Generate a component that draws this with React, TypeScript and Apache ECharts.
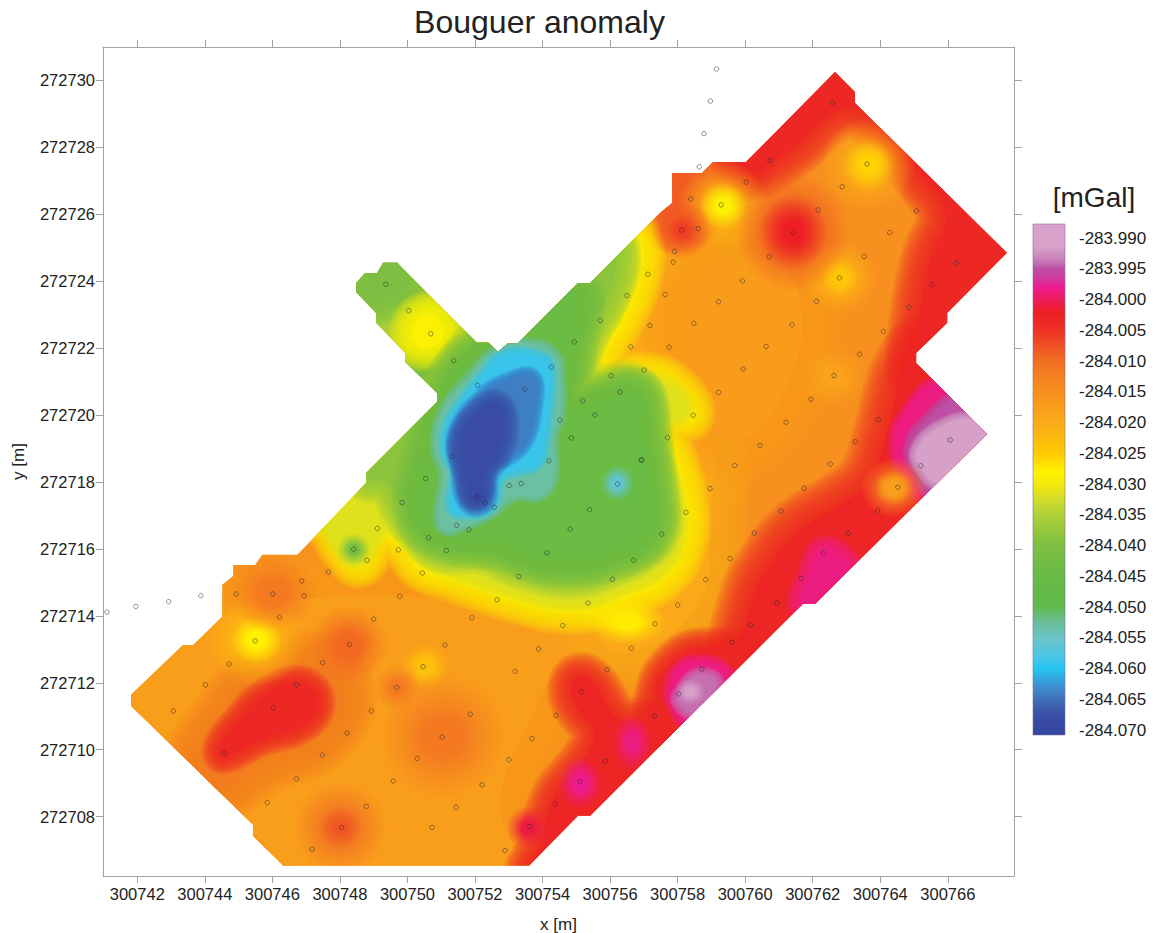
import React, { useEffect, useRef } from "react";
import * as echarts from "echarts";

// Local origin of the survey coordinates: offsets below
const X0 = 300740;
const Y0 = 272700;
const X_MIN = 300740.985;
const X_MAX = 300767.96;
const Y_MIN = 272706.23;
const Y_MAX = 272730.985;
const xTicks = [300742, 300744, 300746, 300748, 300750, 300752, 300754, 300756, 300758, 300760, 300762, 300764, 300766];
const yTicks = [272708, 272710, 272712, 272714, 272716, 272718, 272720, 272722, 272724, 272726, 272728, 272730];
const barTicks = [-283.99, -283.995, -284.0, -284.005, -284.01, -284.015, -284.02, -284.025, -284.03, -284.035, -284.04, -284.045, -284.05, -284.055, -284.06, -284.065, -284.07];
const BAR_MIN = -284.0708;
const BAR_MAX = -283.9877;

// Colour scale of the bar: [mGal, colour]
const colorScale: [number, string][] = [
  [-283.9877, "#d9a3cb"], [-283.9915, "#d6a0c9"], [-283.9935, "#c97fb8"], [-283.995, "#bd4fa4"],
  [-283.9965, "#cf3a9f"], [-283.998, "#ec1c8d"], [-284.0, "#ec1c5c"], [-284.002, "#ed1f24"],
  [-284.005, "#ee3124"], [-284.01, "#f26f22"], [-284.015, "#f7901e"], [-284.02, "#fbab18"],
  [-284.025, "#ffcb05"], [-284.028, "#fff200"], [-284.03, "#f3e80c"], [-284.033, "#cbd92e"],
  [-284.035, "#aed036"], [-284.04, "#7dbf42"], [-284.045, "#67bb46"], [-284.05, "#60b94a"],
  [-284.052, "#69bd8e"], [-284.055, "#6cc5c8"], [-284.058, "#4cc6e6"], [-284.06, "#27c4f0"],
  [-284.063, "#3d8fd0"], [-284.065, "#3f6fb8"], [-284.068, "#3a4ca5"], [-284.0708, "#3447a0"],
];

// Survey outline
const outline = [
  [22.66, 30.24], [23.25, 29.64], [23.25, 29.31], [27.75, 24.84], [25.98, 23.04], [25.98, 22.75], [25.06, 21.85], [25.06, 21.55],
  [27.16, 19.43], [22.07, 14.36], [21.71, 14.36], [15.41, 8.03], [15.05, 8.03], [13.6, 6.54], [6.32, 6.54], [5.43, 7.43], [5.43, 7.76],
  [1.82, 11.31], [1.82, 11.64], [3.36, 13.13], [3.66, 13.13], [4.52, 13.97], [4.52, 14.93], [4.84, 15.19], [4.84, 15.52], [5.49, 15.52],
  [5.7, 15.82], [6.74, 15.82], [8.78, 17.97], [8.78, 18.27], [10.88, 20.39], [10.88, 20.66], [9.93, 21.58], [9.93, 21.85], [9.07, 22.75],
  [9.07, 23.04], [8.48, 23.67], [8.48, 23.94], [8.75, 24.24], [9.1, 24.24], [9.28, 24.54], [9.7, 24.54], [9.78, 24.45], [12.06, 22.15],
  [12.39, 22.15], [12.69, 21.88], [12.95, 22.12], [13.25, 22.12], [15.05, 23.94], [15.41, 23.94], [16.39, 24.93], [17.48, 26.03],
  [17.84, 26.33], [17.84, 27.22], [18.72, 27.22], [19.05, 27.55], [20.03, 27.55],
];
const BASE_LEVEL = -284.015;

// Contours: amber plains
const amberWest = [[1.5, 11.49], [3.57, 13.58], [6.83, 14.48], [11.27, 14.48], [14.52, 13.73], [15.71, 13.28], [14.52, 12.39], [13.64, 10.9], [12.75, 8.51], [13.04, 6.42], [6.83, 6.42], [5.35, 7.61]];
const amberEast = [[16.3, 25.22], [17.48, 25.37], [19.26, 24.63], [19.85, 22.54], [19.26, 19.85], [18.97, 16.87], [18.67, 14.48], [16.89, 12.99], [15.71, 13.28], [15.71, 20.45]];
const amberMid = [[18.37, 23.73], [20.44, 24.63], [21.63, 23.43], [21.04, 20.45], [19.56, 19.25], [18.67, 20.45]];

// Highs
const redNorth = [[20.03, 27.91], [22.66, 30.6], [23.7, 29.7], [28.14, 24.84], [26.07, 22.54], [25.33, 22.09], [25.03, 21.34], [25.18, 23.13], [25.48, 24.63], [25.92, 25.97], [25.33, 27.01], [24.29, 28.21], [23.4, 29.1], [22.52, 28.96], [21.33, 27.91], [20.03, 27.25]];
const orangeCorner = [[17.84, 27.31], [20.15, 27.91], [20, 27.16], [18.81, 26.57], [18.37, 25.67], [17.63, 25.67]];
const redEast = [[25.33, 21.94], [27.55, 19.55], [22.07, 14.03], [20, 12.84], [20.2, 14.48], [20.74, 15.52], [21.63, 16.57], [22.81, 17.31], [23.7, 18.06], [24.14, 19.25], [24.44, 20.45], [24.73, 21.34]];
const pinkEast = [[22.28, 15.97], [22.96, 15.67], [23.1, 15.07], [22.07, 14.18], [21.63, 14.33], [21.92, 15.22]];
const bulbMagenta = [[25.77, 20.9], [27.4, 19.4], [25.33, 17.61], [24.73, 18.21], [24.44, 19.1], [24.73, 20]];
const bulbPurple = [[26.37, 20.45], [27.55, 19.25], [25.56, 17.76], [25.09, 18.36], [24.88, 18.96], [25.27, 19.7]];
const bulbLight = [[26.81, 19.85], [27.55, 19.25], [25.77, 18], [25.18, 18.45], [25.09, 18.96], [25.77, 19.64]];
const redSouth = [[14.85, 11.88], [15.1, 12.2], [15.55, 11.95], [16.2, 10.99], [16.98, 10.81], [17.87, 10.51], [18.67, 10.15], [13.64, 6.48], [14.0, 7.2], [14.1, 7.9], [14.4, 8.7], [14.8, 9.2], [15.4, 10], [15.5, 10.6], [15.0, 11.28]];
const southRedRing = [[17.28, 11.58], [17.87, 12.69], [18.87, 13.07], [20, 12.69], [18.37, 10.45], [17.49, 10.75]];
const southMagenta = [[17.78, 11.79], [18.07, 12.45], [18.75, 12.63], [19.41, 12.39], [19.5, 12.09], [18.28, 10.84], [17.87, 11.34]];
const southPurple = [[18.07, 11.7], [18.58, 12.24], [19.17, 12], [18.46, 11.13], [18.02, 11.4]];
const westHalo = [[6.83, 12.54], [8.01, 11.79], [7.42, 10.45], [5.73, 9.7], [4.3, 8.81], [3.72, 9.4], [4.46, 10.75], [5.64, 12.09]];
const westRed = [[6.74, 12.0], [7.33, 11.58], [7.03, 10.81], [5.64, 10.3], [4.55, 9.79], [4.46, 10.09], [5.05, 10.9], [5.73, 11.58]];

// Arm in the north-west
const armBody = [[8.3, 24.6], [9.9, 24.7], [12.6, 22.2], [10.7, 20.3], [8.3, 23.5]];
const armTip = [[8.5, 23.9], [9.1, 24.73], [9.7, 24.63], [10, 23.9], [9.3, 23.4], [8.7, 23.4]];
const armRoot = [[10.97, 21.55], [11.96, 22.14], [12.65, 21.95], [10.97, 20.45], [10.2, 21.3]];
const armYellow = [[10.45, 22.95], [10.9, 22.85], [11.05, 22.4], [10.8, 22.05], [10.35, 22.05], [10.15, 22.5]];

// Central low, from the rim inwards
const lowYellow = [[16.89, 25.37], [16.89, 23.94], [16.3, 22.63], [15.8, 21.64], [15.92, 21.13], [16.89, 21.25], [17.87, 20.96], [18.46, 19.94], [17.48, 19.64], [17.87, 18.96], [18.28, 17.46], [18.28, 16.27], [17.69, 15.16], [16.39, 14.48], [14.91, 14.09], [12.95, 14.48], [11.47, 14.99], [10.38, 15.37], [9.78, 16.06], [9.28, 16.27], [8.6, 15.46], [8.01, 15.97], [7.48, 16.72], [6.83, 16.87], [10.88, 20.6], [12.15, 22.24], [16.3, 25.52]];
const lowOlive = [[16.5, 25.03], [16.7, 24.43], [16.2, 23.14], [15.61, 22.04], [15.51, 21.35], [15.61, 20.75], [16.7, 21.1], [17.88, 20.75], [18.18, 20.05], [17.39, 19.76], [17.58, 18.96], [17.98, 17.57], [18.03, 16.37], [17.49, 15.38], [16.3, 14.78], [14.92, 14.38], [12.95, 14.78], [11.46, 15.28], [10.48, 15.68], [9.89, 16.37], [9.29, 16.57], [8.7, 15.78], [8.31, 15.68], [7.71, 16.47], [7.12, 17.17], [10.88, 20.6], [12.15, 22.24], [16.3, 25.6]];
const lowGreen = [[16.2, 24.73], [15.91, 23.54], [15.31, 22.44], [15.02, 21.55], [14.92, 20.45], [15.71, 20.75], [16.7, 20.85], [17.1, 20.0], [17.2, 18.9], [17.4, 17.57], [17.4, 16.5], [16.9, 15.95], [16, 15.5], [14.92, 15.2], [13.44, 15.45], [12.16, 15.95], [11.07, 15.97], [10.38, 16.47], [9.89, 17.17], [9.39, 17.96], [8.7, 18.16], [8.5, 18.76], [10.88, 20.6], [12.15, 22.24], [15.12, 24.33], [16.1, 25.2]];
const lowDeepGreen = [[15.51, 20.25], [16.7, 20.55], [16.9, 19.6], [17.1, 18], [17.1, 16.6], [16.3, 16], [14.43, 15.7], [12.75, 16.2], [11.27, 16.4], [10.48, 16.97], [10.67, 18.76], [11.46, 21.15], [12.75, 22.04], [13.93, 22.94], [14.92, 23.64], [14.72, 21.65], [14.72, 20.25]];
const lowTeal = [[12.65, 21.95], [13.64, 22.14], [14.33, 21.85], [14.52, 21.25], [14.52, 19.96], [14.33, 19.36], [14.33, 18.16], [13.93, 17.57], [13.24, 17.57], [12.85, 17.37], [12.55, 17.07], [11.66, 16.67], [11.07, 16.57], [10.92, 17.17], [11.07, 18.16], [10.82, 19.06], [11.07, 20.15], [11.86, 21.15]];
const lowCyan = [[12.85, 21.75], [13.83, 21.75], [14.18, 21.45], [14.13, 20.15], [14.03, 19.26], [13.83, 18.56], [13.24, 18.36], [12.75, 18.16], [12.45, 17.27], [11.66, 17.07], [11.32, 17.27], [11.42, 18.26], [11.17, 18.86], [11.22, 19.66], [11.76, 20.55], [12.16, 21.05]];
const lowBlue = [[12.95, 21.05], [13.73, 21.15], [13.78, 20.15], [13.49, 19.16], [12.95, 18.66], [12.55, 18.46], [12.35, 17.67], [12.16, 17.37], [11.76, 17.47], [11.61, 18.07], [11.37, 18.86], [11.46, 19.66], [12.16, 20.55]];
const lowDark = [[12.05, 19.95], [12.65, 20.3], [12.85, 19.6], [12.65, 18.85], [12.25, 18.2], [12.2, 17.55], [11.98, 17.42], [11.8, 17.7], [11.72, 18.46], [11.6, 19.15]];

// Painted in order: [level, contour, softness]
const bands: [number, number[][], number][] = [
  [-284.0175, amberWest, 50], [-284.0195, amberEast, 40], [-284.0172, amberMid, 44],
  [-284.0085, orangeCorner, 24],
  [-284.012, westHalo, 36], [-284.0035, westRed, 18],
  [-284.0035, redNorth, 30], [-284.003, redEast, 34], [-284.003, redSouth, 24], [-284.0035, southRedRing, 20],
  [-283.9985, pinkEast, 14], [-283.9985, bulbMagenta, 8], [-283.995, bulbPurple, 8], [-283.991, bulbLight, 8],
  [-283.9985, southMagenta, 8], [-283.994, southPurple, 8],
  [-284.0355, armBody, 10], [-284.04, armTip, 24], [-284.0415, armRoot, 18], [-284.0285, armYellow, 24],
  [-284.0275, lowYellow, 22], [-284.0315, lowOlive, 10], [-284.0385, lowGreen, 24], [-284.044, lowDeepGreen, 30],
  [-284.053, lowTeal, 6], [-284.059, lowCyan, 8], [-284.064, lowBlue, 8], [-284.0685, lowDark, 16],
];

// Isolated soft spots: [x, y, radius x, radius y, level]
const spots: number[][] = [
  [19.35, 26.24, 1.35, 1.35, -284.0215], [19.35, 26.24, 0.7, 0.7, -284.0285],
  [23.64, 27.46, 1.4, 1.4, -284.0205], [23.64, 27.46, 0.75, 0.75, -284.0255],
  [22.81, 24.09, 1.1, 1.1, -284.021], [22.81, 24.09, 0.55, 0.55, -284.0245],
  [5.52, 13.28, 1.5, 1.4, -284.0225], [5.52, 13.28, 0.75, 0.7, -284.028],
  [24.4, 17.82, 1.0, 0.9, -284.014], [24.4, 17.82, 0.55, 0.5, -284.018],
  [10.53, 12.48, 0.7, 0.7, -284.0235], [16.5, 13.82, 1.2, 0.7, -284.0275], [22.6, 21.13, 1.0, 0.9, -284.0185],
  [21.42, 25.46, 1.7, 1.8, -284.008], [21.42, 25.46, 1.0, 1.1, -284.002],
  [18.13, 25.52, 0.9, 0.9, -284.008], [18.13, 25.52, 0.45, 0.45, -284.006],
  [8.25, 13.13, 1.2, 1.2, -284.0095],
  [8.01, 7.67, 1.4, 1.4, -284.0105], [8.01, 7.67, 0.6, 0.6, -284.008],
  [11.06, 10.39, 1.9, 1.9, -284.0115],
  [6.02, 14.69, 1.3, 1.2, -284.0115],
  [9.69, 11.85, 0.7, 0.7, -284.012],
  [16.66, 10.21, 0.6, 0.85, -283.9985], [15.12, 9.01, 0.65, 0.8, -283.998], [13.58, 7.67, 0.65, 0.65, -284.001],
  [18.37, 11.73, 0.45, 0.4, -283.99],
  [16.22, 17.96, 0.5, 0.55, -284.056], [12.12, 17.5, 0.3, 0.2, -284.0705], [8.41, 15.98, 0.5, 0.5, -284.041],
];

// Sample stations (open circles)
const stations = [
  [1.1, 14.11], [1.96, 14.28], [2.93, 14.42], [3.88, 14.6], [19.15, 30.33], [18.97, 29.37], [18.78, 28.4], [18.64, 27.41],
  [20.03, 26.95], [18.39, 26.45], [19.29, 26.27], [18.12, 25.52], [18.61, 25.56], [17.91, 24.88], [17.87, 24.56], [17.63, 23.59],
  [20.71, 24.72], [19.92, 24.0], [19.21, 23.38], [18.48, 22.73], [17.75, 22.02], [20.62, 22.04], [21.39, 22.69], [22.11, 23.39],
  [22.79, 24.09], [23.52, 24.73], [24.28, 25.44], [25.07, 26.09], [25.53, 23.89], [24.84, 23.21], [24.09, 22.49], [22.16, 26.12],
  [22.87, 26.81], [23.61, 27.49], [20.74, 27.6], [21.43, 25.45], [26.26, 24.53], [22.59, 29.31],
  [23.39, 21.81], [17.01, 21.34], [19.94, 21.37], [22.63, 21.17], [19.21, 20.67], [21.95, 20.47], [18.46, 19.99], [21.21, 19.78],
  [23.94, 19.86], [17.7, 19.32], [20.44, 19.09], [23.26, 19.2], [26.07, 19.25], [25.2, 18.48], [19.69, 18.49], [22.52, 18.53],
  [16.94, 18.66], [18.96, 17.8], [21.74, 17.81], [24.52, 17.84], [18.25, 17.09], [21.06, 17.13], [23.92, 17.15], [17.53, 16.44],
  [20.27, 16.47], [23.06, 16.47], [19.55, 15.71], [22.32, 15.87], [18.83, 15.08], [21.66, 15.11], [18.0, 14.32], [20.94, 14.38],
  [17.33, 13.76], [20.16, 13.73],
  [17.12, 24.2], [9.36, 23.9], [16.5, 23.56], [10.04, 23.11], [15.71, 22.82], [17.18, 22.67], [10.69, 22.42], [14.94, 22.18],
  [16.61, 22.03], [11.37, 21.62], [14.26, 21.43], [16.03, 21.17], [12.08, 20.88], [13.47, 20.77], [16.3, 20.68], [15.19, 20.42],
  [15.55, 20.0], [14.51, 19.84], [14.85, 19.31], [11.32, 18.76], [14.19, 18.63], [16.92, 18.64], [10.54, 18.1], [16.22, 17.94],
  [13.01, 17.89], [13.37, 17.95], [12.06, 17.55], [12.3, 17.37], [9.84, 17.38], [15.39, 17.17], [12.57, 17.24], [11.46, 16.7],
  [11.82, 16.57], [14.82, 16.59], [9.11, 16.61], [10.63, 16.33], [8.41, 15.99], [9.73, 15.97], [11.15, 15.95], [14.13, 15.88],
  [8.8, 15.66], [16.7, 15.66], [10.44, 15.28], [13.3, 15.17], [16.07, 15.09], [12.65, 14.48], [15.35, 14.38], [9.77, 14.58],
  [11.91, 13.94], [9.0, 13.9],
  [4.93, 14.65], [6.01, 14.65], [6.94, 14.6], [6.87, 15.04], [7.66, 15.31], [6.21, 13.96], [5.49, 13.25], [8.28, 13.14], [11.11, 13.13],
  [4.72, 12.56], [7.49, 12.6], [10.46, 12.48], [4.02, 11.94], [6.72, 11.94], [9.68, 11.86], [3.07, 11.16], [6.03, 11.26], [8.93, 11.16],
  [8.21, 10.5], [11.03, 10.38], [4.57, 9.89], [7.48, 9.84], [10.29, 9.74], [6.71, 9.13], [9.58, 9.07], [5.85, 8.42], [8.78, 8.31],
  [11.44, 8.28], [8.05, 7.68], [10.73, 7.68], [7.18, 7.03],
  [14.6, 13.71], [13.88, 13.01], [16.63, 13.03], [19.61, 13.21], [13.19, 12.34], [15.91, 12.39], [15.16, 11.74], [18.03, 11.67],
  [18.72, 12.41], [11.86, 11.06], [14.4, 11.03], [17.32, 11.02], [13.69, 10.33], [13.0, 9.7], [15.86, 9.65], [12.21, 8.95], [15.1, 9.05],
  [14.38, 8.39], [13.62, 7.71], [12.89, 6.99],
];

const FONT = '"Liberation Sans", Arial, sans-serif';
const INK = "#222";
const FRAME = "#a3a3a3";
const RINGS = 12;

function levelColor(v: number): string {
  for (let i = 0; i < colorScale.length - 1; i++) {
    const [a, ca] = colorScale[i];
    const [b, cb] = colorScale[i + 1];
    if (v <= a && v >= b) return echarts.color.lerp((a - v) / (a - b), [ca, cb]) as string;
  }
  return colorScale[colorScale.length - 1][1];
}

export default function App() {
  const ref = useRef<HTMLDivElement>(null);
  useEffect(() => {
    const chart = echarts.init(ref.current!, null, { renderer: "svg" });
    const toPx = (api: any, p: number[]) => api.coord([X0 + p[0], Y0 + p[1]]);
    const clipOf = (api: any) => ({ type: "polygon", shape: { points: outline.map((p) => toPx(api, p)) } });
    const span = BAR_MAX - BAR_MIN;
    const frameAxis = { axisLine: { onZero: false, lineStyle: { color: FRAME, width: 1 } }, splitLine: { show: false } };
    chart.setOption({
      animation: false,
      backgroundColor: "#fff",
      title: [
        { text: "Bouguer anomaly", left: 534.5, top: 1, textAlign: "center", textStyle: { fontFamily: FONT, fontSize: 32, fontWeight: "normal", color: INK } },
        { text: "[mGal]", left: 1089, top: 178, textAlign: "center", textStyle: { fontFamily: FONT, fontSize: 28, fontWeight: "normal", color: INK } },
      ],
      grid: [
        { left: 103, top: 47, width: 911, height: 829, outerBoundsMode: "none" },
        { left: 1033, top: 224, width: 32, height: 511, outerBoundsMode: "none" },
      ],
      xAxis: [
        {
          type: "value", gridIndex: 0, position: "bottom", min: X_MIN, max: X_MAX, ...frameAxis,
          axisTick: { length: 7, customValues: xTicks, lineStyle: { color: FRAME } },
          axisLabel: { customValues: xTicks, margin: 9, fontFamily: FONT, fontSize: 16.5, color: INK, formatter: (v: number) => String(v), hideOverlap: false },
          name: "x [m]", nameLocation: "middle", nameGap: 40, nameTextStyle: { fontFamily: FONT, fontSize: 17, color: INK },
        },
        {
          type: "value", gridIndex: 0, position: "top", min: X_MIN, max: X_MAX, ...frameAxis,
          axisTick: { length: 7, customValues: xTicks, lineStyle: { color: FRAME } }, axisLabel: { show: false },
        },
        { type: "value", gridIndex: 1, min: 0, max: 1, show: false },
      ],
      yAxis: [
        {
          type: "value", gridIndex: 0, position: "left", min: Y_MIN, max: Y_MAX, ...frameAxis,
          axisTick: { length: 7, customValues: yTicks, lineStyle: { color: FRAME } },
          axisLabel: { customValues: yTicks, margin: 8, fontFamily: FONT, fontSize: 16.5, color: INK, formatter: (v: number) => String(v) },
          name: "y [m]", nameLocation: "middle", nameGap: 76, nameTextStyle: { fontFamily: FONT, fontSize: 17, color: INK },
        },
        {
          type: "value", gridIndex: 0, position: "right", min: Y_MIN, max: Y_MAX, ...frameAxis,
          axisTick: { length: 8, customValues: yTicks, lineStyle: { color: FRAME } }, axisLabel: { show: false },
        },
        {
          type: "value", gridIndex: 1, position: "right", min: BAR_MIN, max: BAR_MAX,
          axisLine: { show: false }, splitLine: { show: false },
          axisTick: { length: 10, customValues: barTicks, lineStyle: { color: "#999" } },
          axisLabel: { customValues: barTicks, margin: 14, fontFamily: FONT, fontSize: 17, color: INK, formatter: (v: number) => v.toFixed(3) },
        },
      ],
      series: [
        {
          type: "custom", name: "base", xAxisIndex: 0, yAxisIndex: 0, silent: true, z: 1,
          data: [[BASE_LEVEL]],
          renderItem: (_p: any, api: any) => ({
            type: "polygon",
            shape: { points: outline.map((p) => toPx(api, p)) },
            style: { fill: levelColor(api.value(0)) },
          }),
        },
        {
          type: "custom", name: "bands", xAxisIndex: 0, yAxisIndex: 0, silent: true, z: 2,
          data: bands.map((b, i) => [i, b[0]]),
          renderItem: (p: any, api: any) => {
            const [level, contour, soft] = bands[p.dataIndex];
            const c = levelColor(level);
            const points = contour.map((q) => toPx(api, q));
            const clipPath = clipOf(api);
            const children: any[] = [];
            for (let k = RINGS; k >= 1; k--) {
              children.push({
                type: "polygon", clipPath,
                shape: { points, smooth: 0.45 },
                style: { fill: "none", stroke: c, lineWidth: (2 * soft * k) / RINGS, lineJoin: "round", opacity: 0.16 },
              });
            }
            children.push({ type: "polygon", clipPath, shape: { points, smooth: 0.45 }, style: { fill: c } });
            return { type: "group", children };
          },
        },
        {
          type: "custom", name: "spots", xAxisIndex: 0, yAxisIndex: 0, silent: true, z: 3,
          data: spots.map((s, i) => [i, s[4]]),
          renderItem: (p: any, api: any) => {
            const [x, y, rx, ry, level] = spots[p.dataIndex];
            const c = levelColor(level);
            const [cx, cy] = toPx(api, [x, y]);
            const [sx, sy] = api.size([rx, ry]);
            return {
              type: "ellipse",
              clipPath: clipOf(api),
              shape: { cx, cy, rx: sx, ry: sy },
              style: {
                fill: new echarts.graphic.RadialGradient(0.5, 0.5, 0.5, [
                  { offset: 0, color: c },
                  { offset: 0.3, color: c },
                  { offset: 0.65, color: echarts.color.modifyAlpha(c, 0.45) },
                  { offset: 1, color: echarts.color.modifyAlpha(c, 0) },
                ]),
              },
            };
          },
        },
        {
          type: "scatter", name: "stations", xAxisIndex: 0, yAxisIndex: 0, silent: true, z: 4,
          symbol: "circle", symbolSize: 4.5,
          itemStyle: { color: "rgba(0,0,0,0)", borderColor: "rgba(40,40,50,0.8)", borderWidth: 0.8 },
          data: stations.map((s) => [X0 + s[0], Y0 + s[1]]),
        },
        {
          type: "custom", name: "colour bar", xAxisIndex: 2, yAxisIndex: 2, silent: true, z: 2,
          data: [[0, BAR_MIN, 1, BAR_MAX]],
          renderItem: (_p: any, api: any) => {
            const a = api.coord([api.value(0), api.value(3)]);
            const b = api.coord([api.value(2), api.value(1)]);
            return {
              type: "rect",
              shape: { x: a[0], y: a[1], width: b[0] - a[0], height: b[1] - a[1] },
              style: {
                fill: new echarts.graphic.LinearGradient(0, 0, 0, 1, colorScale.map(([v, color]) => ({ offset: (BAR_MAX - v) / span, color }))),
                stroke: "rgba(120,110,150,0.55)", lineWidth: 1,
              },
            };
          },
        },
      ],
    });
    return () => chart.dispose();
  }, []);
  return <div ref={ref} style={{ position: "absolute", left: 0, top: 0, width: 1157, height: 933 }} />;
}
